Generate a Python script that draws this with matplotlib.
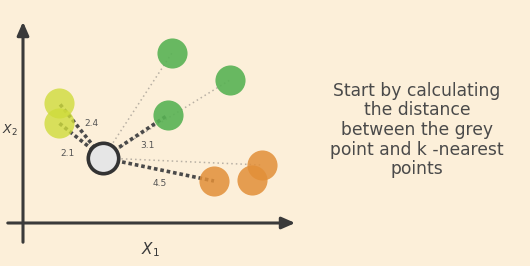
import matplotlib.pyplot as plt

# points (units of the X1/X2 axes)
yellow_x = [3.6, 3.6]
yellow_y = [12.0, 10.0]
green_x = [14.9, 20.7, 14.5]
green_y = [17.0, 14.3, 10.8]
orange_x = [19.1, 23.9, 22.9]
orange_y = [4.2, 5.8, 4.3]
query = (8.0, 6.5)

# distances to nearest points
near_x = [3.6, 3.6, 14.5, 19.1]
near_y = [12.0, 10.0, 10.8, 4.2]
far_x = [14.9, 20.7, 23.9]
far_y = [17.0, 14.3, 5.8]
dist_labels = ["2.4", "2.1", "3.1", "4.5"]
label_pos = [(6.8, 10.0), (4.4, 7.0), (12.4, 7.8), (13.7, 4.0)]

bg = "#fcefd9"
fig = plt.figure(figsize=(5.3, 2.66), dpi=100, facecolor=bg)
ax = fig.add_axes([0, 0, 1, 1])
ax.set_facecolor(bg)
ax.set_xlim(-2.3, 50.7)
ax.set_ylim(-4.3, 22.3)
ax.axis("off")

# axes arrows
arrow = dict(arrowstyle="-|>,head_length=0.8,head_width=0.35", color="#3a3a3a", lw=2.2)
ax.annotate("", xy=(0, 20.4), xytext=(0, -2.2), arrowprops=arrow)
ax.annotate("", xy=(27.5, 0), xytext=(-1.8, 0), arrowprops=arrow)
ax.text(12.7, -2.7, "X$_1$", fontsize=11, color="#3a3a3a", ha="center", va="center",
        style="italic")
ax.text(-1.3, 9.3, "X$_2$", fontsize=9, color="#3a3a3a", ha="center", va="center",
        style="italic")

# faint dotted lines
for x, y in zip(far_x, far_y):
    ax.plot([query[0], x], [query[1], y], ls=(0, (1, 2)), lw=1.1, color="#b8b0a4", zorder=1)
# thick dotted lines
for x, y in zip(near_x, near_y):
    ax.plot([query[0], x], [query[1], y], ls=(0, (1, 0.8)), lw=2.6, color="#4a4a4a", zorder=1)

s = 470
ax.scatter(yellow_x, yellow_y, s=s, color="#cfdc3c", alpha=0.8, lw=0, zorder=2)
ax.scatter(green_x, green_y, s=s, color="#58b254", alpha=0.9, lw=0, zorder=2)
ax.scatter(orange_x, orange_y, s=s, color="#e28f38", alpha=0.85, lw=0, zorder=2)
ax.scatter([query[0]], [query[1]], s=480, facecolor="#e6e6e6", edgecolor="#333333",
           lw=2.6, zorder=3)

for t, (x, y) in zip(dist_labels, label_pos):
    ax.text(x, y, t, fontsize=6.5, color="#555555", ha="center", va="center", zorder=4)

ax.text(39.4, 9.3, "Start by calculating\nthe distance\nbetween the grey\npoint and k -nearest\npoints",
        fontsize=12.3, family="DejaVu Sans", color="#4a4a4a", ha="center", va="center",
        linespacing=1.12)

fig.savefig("out.png", dpi=100, facecolor=bg)
